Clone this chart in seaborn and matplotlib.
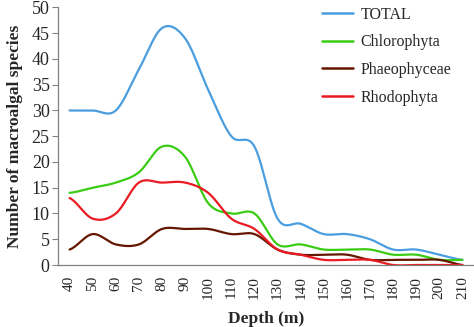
import numpy as np
import pandas as pd
import matplotlib
matplotlib.use("Agg")
import matplotlib.pyplot as plt
import seaborn as sns

depths = [40, 50, 60, 70, 80, 90, 100, 110, 120, 130, 140, 150, 160, 170, 180, 190, 200, 210]
total = [30, 30, 30, 38, 46, 44, 34, 25, 23, 9, 8, 6, 6, 5, 3, 3, 2, 1]
chlorophyta = [14, 15, 16, 18, 23, 21, 12, 10, 10, 4, 4, 3, 3, 3, 2, 2, 1, 1]
phaeophyceae = [3, 6, 4, 4, 7, 7, 7, 6, 6, 3, 2, 2, 2, 1, 1, 1, 1, 0]
rhodophyta = [13, 9, 10, 16, 16, 16, 14, 9, 7, 3, 2, 1, 1, 1, 0, 0, 0, 0]

series_names = ["TOTAL", "Chlorophyta", "Phaeophyceae", "Rhodophyta"]
series_values = [total, chlorophyta, phaeophyceae, rhodophyta]
colors = ["#4A9DDE", "#3ACC14", "#651500", "#EA1A22"]


def smooth(vals, n=30):
    """Excel-style (Catmull-Rom) smoothed line through the points."""
    y = np.asarray(vals, dtype=float)
    k = len(y)
    xs, ys = [], []
    for i in range(k - 1):
        p0 = y[i - 1] if i > 0 else y[i]
        p1, p2 = y[i], y[i + 1]
        p3 = y[i + 2] if i + 2 < k else y[i + 1]
        m1 = (p2 - p0) / 2.0
        m2 = (p3 - p1) / 2.0
        t = np.linspace(0, 1, n, endpoint=False)
        h00 = 2 * t**3 - 3 * t**2 + 1
        h10 = t**3 - 2 * t**2 + t
        h01 = -2 * t**3 + 3 * t**2
        h11 = t**3 - t**2
        ys.append(h00 * p1 + h10 * m1 + h01 * p2 + h11 * m2)
        xs.append(i + t)
    xs.append(np.array([k - 1.0]))
    ys.append(np.array([y[-1]]))
    return np.concatenate(xs), np.concatenate(ys)


frames = []
for name, vals in zip(series_names, series_values):
    sx, sy = smooth(vals)
    frames.append(pd.DataFrame({"pos": sx, "value": sy, "series": name}))
df = pd.concat(frames, ignore_index=True)

sns.set_style("white")
plt.rcParams["font.family"] = ["Liberation Serif", "DejaVu Serif"]

fig = plt.figure(figsize=(4.74, 3.27), dpi=100)
ax = fig.add_axes([0.1224, 0.1896, 0.8776, 0.7875])

sns.lineplot(data=df, x="pos", y="value", hue="series", hue_order=series_names,
             palette=colors, sort=False, estimator=None, linewidth=1.6, ax=ax)

ax.set_xlim(-0.5, len(depths) - 0.5)
ax.set_ylim(0, 50)
ax.set_yticks(range(0, 51, 5))
ax.set_xticks(range(len(depths)))
ax.set_xticklabels([str(d) for d in depths], rotation=90, fontsize=11)
ax.set_xticks(np.arange(-0.5, len(depths), 1.0), minor=True)
ax.tick_params(axis="x", which="major", length=0, pad=8)
ax.tick_params(axis="x", which="minor", length=4, width=0.8, color="#808080", direction="out")
ax.tick_params(axis="y", length=4, width=0.8, color="#808080", direction="out", labelsize=13, pad=2)
ax.tick_params(axis="both", bottom=True, left=True)

for side in ["top", "right"]:
    ax.spines[side].set_visible(False)
for side in ["left", "bottom"]:
    ax.spines[side].set_color("#808080")
    ax.spines[side].set_linewidth(0.9)

ax.set_xlabel("Depth (m)", fontsize=12.5, fontweight="bold", labelpad=9)
ax.set_ylabel("Number of macroalgal species", fontsize=12.5, fontweight="bold", labelpad=6)

leg = ax.legend(loc="upper left", bbox_to_anchor=(322 / 474, 1 - 7 / 327),
                bbox_transform=fig.transFigure, borderpad=0, borderaxespad=0,
                frameon=False, fontsize=11.5, handlelength=1.95, handletextpad=0.45,
                labelspacing=0.72)
for line in leg.get_lines():
    line.set_linewidth(1.8)

fig.savefig("out.png", dpi=100)
